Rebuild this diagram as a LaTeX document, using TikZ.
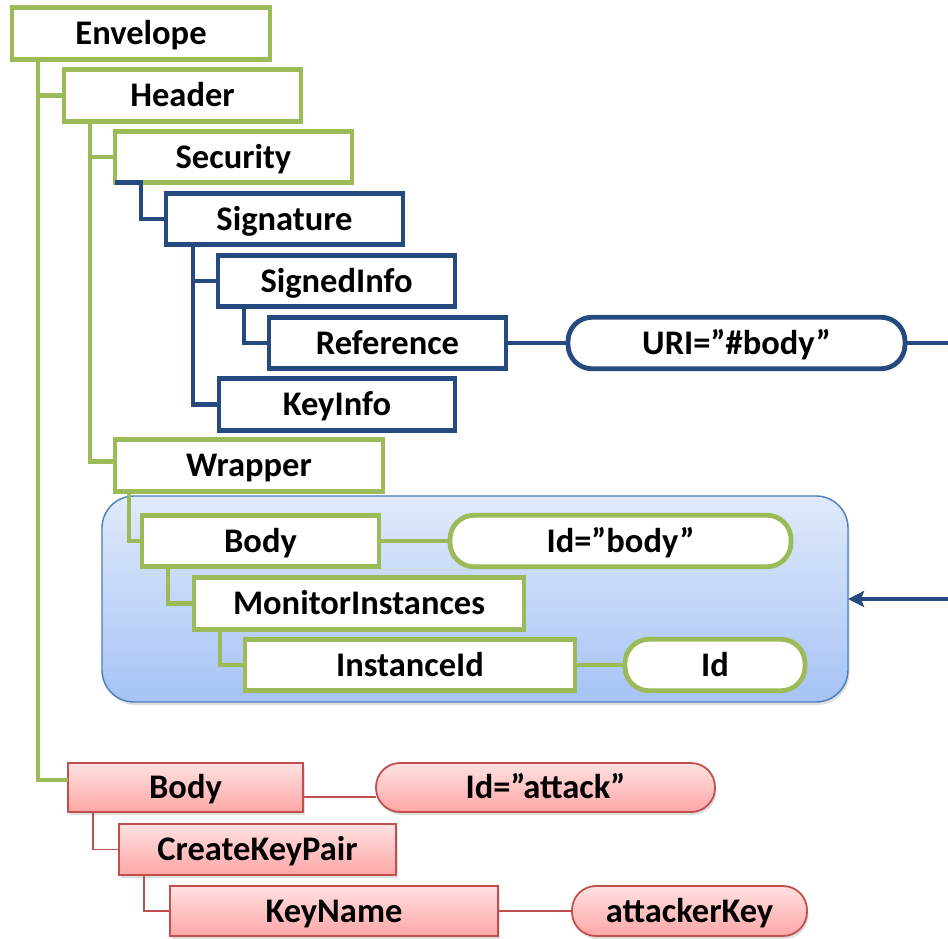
\documentclass[tikz,border=0pt]{standalone}
\usepackage{fontspec}
\setmainfont{Carlito}
\usetikzlibrary{arrows.meta,shadows}
\definecolor{leaf}{HTML}{9BBB59}
\definecolor{navy}{HTML}{254A80}
\definecolor{rose}{HTML}{C0504D}
\definecolor{rosetop}{HTML}{FFE1E1}
\definecolor{rosebot}{HTML}{FFA6A6}
\definecolor{grptop}{HTML}{E0EAFB}
\definecolor{grpbot}{HTML}{A6C3F5}
\definecolor{grpline}{HTML}{4A7EBB}
\tikzset{
  el/.style={draw, line width=4.8pt, fill=white, outer sep=0pt, inner sep=0pt,
    minimum height=51.5pt, text height=22pt, text depth=0pt,
    font=\fontsize{34.5}{40}\selectfont\bfseries},
  gel/.style={el, draw=leaf},
  bel/.style={el, draw=navy},
  rel/.style={el, draw=rose, line width=1.8pt, top color=rosetop, bottom color=rosebot,
    drop shadow={opacity=0.25, shadow xshift=1.5pt, shadow yshift=-3pt}},
  attr/.style={rounded corners=24pt},
  glink/.style={draw=leaf, line width=4.8pt},
  blink/.style={draw=navy, line width=4.8pt},
  rlink/.style={draw=rose, line width=1.6pt},
  grp/.style={draw=grpline, line width=1.4pt, rounded corners=32pt, outer sep=0pt,
    top color=grptop, bottom color=grpbot,
    drop shadow={opacity=0.25, shadow xshift=1.5pt, shadow yshift=-3pt}},
}
\begin{document}
\begin{tikzpicture}[x=1pt,y=-1pt]
\useasboundingbox (0,0) rectangle (948,939);
% wrapped part
\node[grp, minimum width=746pt, minimum height=206pt] (grp) at (475,599) {};
% header
\node[gel, minimum width=258pt] (env) at (141,33.5) {Envelope};
\node[gel, minimum width=237pt] (hdr) at (182.5,95.5) {Header};
\node[gel, minimum width=237pt] (sec) at (233.5,157) {Security};
\node[bel, minimum width=237pt] (sig) at (284.5,219) {Signature};
\node[bel, minimum width=237pt] (si) at (336.5,281) {SignedInfo};
\node[bel, minimum width=237pt] (ref) at (387.5,343) {Reference};
\node[bel, minimum width=236pt] (ki) at (337,404.5) {KeyInfo};
\node[bel, attr, minimum width=337pt] (uri) at (736.5,343) {URI=”\#body”};
% original body
\node[gel, minimum width=268pt] (wrp) at (249,465.5) {Wrapper};
\node[gel, minimum width=237pt] (bbody) at (260.5,541) {Body};
\node[gel, attr, minimum width=341pt] (bid) at (620.5,541) {Id=”body”};
\node[gel, minimum width=330pt] (mon) at (359,603.5) {MonitorInstances};
\node[gel, minimum width=330pt] (iid) at (410,665) {InstanceId};
\node[gel, attr, minimum width=180pt] (idn) at (715,665) {Id};
% injected body
\node[rel, minimum width=235pt, minimum height=49pt] (rbody) at (185.5,787.5) {Body};
\node[rel, attr, minimum width=339pt, minimum height=49pt] (atk) at (545.5,787.5) {Id=”attack”};
\node[rel, minimum width=277pt] (crk) at (257.5,849.5) {CreateKeyPair};
\node[rel, minimum width=328pt, minimum height=50pt] (kn) at (334,911) {KeyName};
\node[rel, attr, minimum width=235pt, minimum height=50pt] (ak) at (689.5,911) {attackerKey};
% tree lines
\draw[glink] ([xshift=26pt]env.south west) |- (hdr.west);
\draw[glink] ([xshift=26pt]env.south west) |- ([yshift=7.5pt]rbody.west);
\draw[glink] ([xshift=26pt]hdr.south west) |- (sec.west);
\draw[glink] ([xshift=26pt]hdr.south west) |- ([yshift=4pt]wrp.west);
\draw[blink] (sec.south west) -- ++(26,0) |- (sig.west);
\draw[blink] ([xshift=27pt]sig.south west) |- (si.west);
\draw[blink] ([xshift=27pt]sig.south west) |- (ki.west);
\draw[blink] ([xshift=26pt]si.south west) |- (ref.west);
\draw[blink] (ref.east) -- (uri.west);
\draw[blink, -{Stealth[length=16pt, width=16pt, inset=3pt]}] (uri.east) -- ++(45,0) |- (grp.east);
\draw[glink] ([xshift=14pt]wrp.south west) |- (bbody.west);
\draw[glink] (bbody.east) -- (bid.west);
\draw[glink] ([xshift=26pt]bbody.south west) |- (mon.west);
\draw[glink] ([xshift=26pt]mon.south west) |- (iid.west);
\draw[glink] (iid.east) -- (idn.west);
\draw[rlink] ([yshift=-9.5pt]rbody.east) -- ([yshift=-9.5pt]atk.west);
\draw[rlink] ([xshift=25pt]rbody.south west) |- (crk.west);
\draw[rlink] ([xshift=25pt]crk.south west) |- (kn.west);
\draw[rlink] (kn.east) -- (ak.west);
\end{tikzpicture}
\end{document}
